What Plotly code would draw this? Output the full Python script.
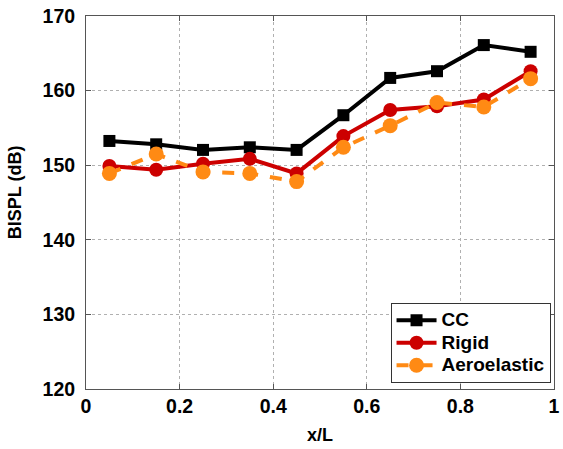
import plotly.graph_objects as go

x_vals = [0.05, 0.15, 0.25, 0.35, 0.45, 0.55, 0.65, 0.75, 0.85, 0.95]
cc = [153.25, 152.8, 152.05, 152.4, 152.05, 156.7, 161.7, 162.6, 166.1, 165.2]
rigid = [149.9, 149.4, 150.2, 150.85, 148.9, 153.9, 157.4, 157.9, 158.8, 162.6]
aero = [148.9, 151.5, 149.1, 148.9, 147.8, 152.4, 155.3, 158.4, 157.8, 161.6]
series_names = ["CC", "Rigid", "Aeroelastic"]
x_ticks = [0, 0.2, 0.4, 0.6, 0.8, 1]
x_tick_labels = ["0", "0.2", "0.4", "0.6", "0.8", "1"]
y_ticks = [120, 130, 140, 150, 160, 170]


def legend_label(s):
    return "<span style='font-size:19px'>" + s + "</span>"


fig = go.Figure()
fig.add_trace(go.Scatter(x=x_vals, y=cc, name=legend_label(series_names[0]), mode="lines+markers",
                         line=dict(color="black", width=4),
                         marker=dict(symbol="square", size=12, color="black")))
fig.add_trace(go.Scatter(x=x_vals, y=rigid, name=legend_label(series_names[1]), mode="lines+markers",
                         line=dict(color="#cc0000", width=4),
                         marker=dict(symbol="circle", size=14, color="#cc0000")))
fig.add_trace(go.Scatter(x=x_vals, y=aero, name=legend_label(series_names[2]), mode="lines+markers",
                         line=dict(color="#ff8a14", width=4, dash="dash"),
                         marker=dict(symbol="circle", size=15, color="#ff8a14")))

font_family = "Liberation Sans, Arial, sans-serif"
axis_common = dict(
    showgrid=True, gridcolor="#b0b0b0", griddash="dot", gridwidth=1,
    showline=True, linecolor="#555555", linewidth=1, mirror="ticks",
    ticks="inside", ticklen=5, tickcolor="#555555", zeroline=False,
    tickfont=dict(family=font_family, size=19.5, color="black", weight="bold"),
    ticklabeloverflow="allow",
)
fig.update_xaxes(range=[0, 1], tickvals=x_ticks, ticktext=x_tick_labels,
                 title=dict(text="x/L", font=dict(family=font_family, size=18, color="black", weight="bold"), standoff=11),
                 **axis_common)
fig.update_yaxes(range=[120, 170], tickvals=y_ticks, ticklabelstandoff=6,
                 **axis_common)

fig.add_annotation(text="BISPL (dB)", xref="paper", yref="paper",
                   x=-0.15, y=0.527, xanchor="center", yanchor="middle",
                   textangle=-90, showarrow=False,
                   font=dict(family=font_family, size=18, color="black", weight="bold"))

fig.update_layout(
    width=563, height=449,
    margin=dict(l=86, r=3, t=16, b=60),
    plot_bgcolor="white", paper_bgcolor="white",
    font=dict(family=font_family, color="black"),
    legend=dict(x=0.9926, y=0.016, xanchor="right", yanchor="bottom",
                bgcolor="white", bordercolor="#333333", borderwidth=1,
                font=dict(family=font_family, size=15, color="black", weight="bold"),
                tracegroupgap=0, itemwidth=40),
    showlegend=True,
)

fig.write_html("out.html")
